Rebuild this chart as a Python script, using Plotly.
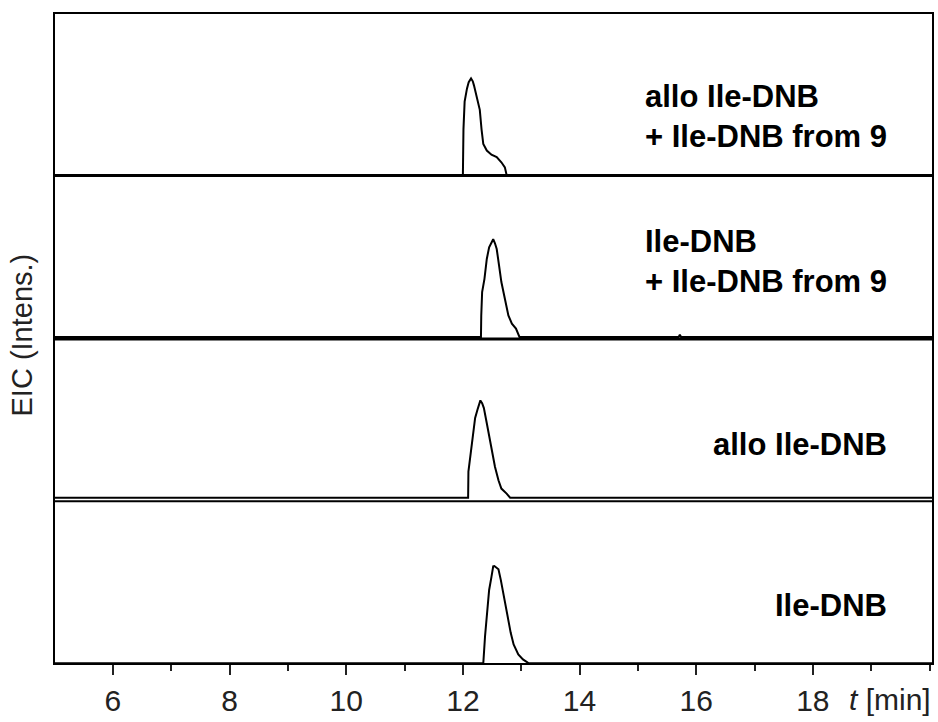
import plotly.graph_objects as go

# ---- data (time in min, normalised EIC intensity) ----
t_p1 = [4.9, 12.00, 12.01, 12.03, 12.07, 12.10, 12.14, 12.17, 12.19, 12.23, 12.26, 12.29, 12.32, 12.35, 12.41, 12.49, 12.58, 12.66, 12.72, 12.75, 20.2]
i_p1 = [0.0, 0.00, 0.28, 0.45, 0.53, 0.57, 0.593, 0.575, 0.55, 0.49, 0.45, 0.40, 0.28, 0.19, 0.15, 0.125, 0.11, 0.078, 0.047, 0.0, 0.0]

t_p2 = [4.9, 12.31, 12.315, 12.33, 12.37, 12.41, 12.45, 12.50, 12.52, 12.55, 12.58, 12.62, 12.66, 12.72, 12.78, 12.84, 12.91, 12.97, 15.70, 15.72, 15.74, 20.2]
i_p2 = [0.0, 0.00, 0.13, 0.276, 0.357, 0.479, 0.55, 0.585, 0.60, 0.575, 0.54, 0.44, 0.337, 0.235, 0.133, 0.082, 0.052, 0.0, 0.0, 0.015, 0.0, 0.0]

t_p3 = [4.9, 12.09, 12.095, 12.13, 12.17, 12.21, 12.25, 12.28, 12.30, 12.33, 12.36, 12.41, 12.45, 12.49, 12.55, 12.61, 12.66, 12.75, 12.81, 20.2]
i_p3 = [0.0, 0.00, 0.16, 0.27, 0.364, 0.49, 0.54, 0.575, 0.597, 0.58, 0.55, 0.457, 0.375, 0.29, 0.19, 0.107, 0.056, 0.025, 0.0, 0.0]

t_p4 = [4.9, 12.35, 12.38, 12.41, 12.45, 12.49, 12.52, 12.54, 12.58, 12.61, 12.65, 12.70, 12.76, 12.82, 12.87, 12.95, 13.03, 13.13, 20.2]
i_p4 = [0.0, 0.00, 0.166, 0.29, 0.45, 0.53, 0.595, 0.597, 0.585, 0.577, 0.512, 0.41, 0.288, 0.187, 0.116, 0.055, 0.024, 0.0, 0.0]

panel_labels = [
    "allo Ile-DNB<br>+ Ile-DNB from 9",
    "Ile-DNB<br>+ Ile-DNB from 9",
    "allo Ile-DNB",
    "Ile-DNB",
]
x_ticks = [6, 8, 10, 12, 14, 16, 18]
x_minor = [7, 9, 11, 13, 15, 17, 19, 20]
y_title = "EIC (Intens.)"
x_unit = "<i>t</i> [min]"

FONT = "Arial, 'Liberation Sans', sans-serif"

# plot-area geometry in pixels (figure 938x722)
L, R, T, B = 54, 5, 13, 54
H = 722 - T - B
def py(ypix):
    return (722 - B - ypix) / H

fig = go.Figure()
series = [(t_p1, i_p1, "y"), (t_p2, i_p2, "y2"), (t_p3, i_p3, "y3"), (t_p4, i_p4, "y4")]
for t, i, ax in series:
    fig.add_trace(go.Scatter(x=t, y=i, mode="lines", yaxis=ax, xaxis="x",
                             line=dict(color="black", width=2), showlegend=False,
                             hoverinfo="skip"))

b1, b2, b3 = 176, 340, 503
yax_common = dict(showticklabels=False, ticks="", showgrid=False, zeroline=False,
                  showline=False, anchor="x", fixedrange=True)
fig.update_layout(
    width=938, height=722,
    margin=dict(l=L, r=R, t=T, b=B),
    paper_bgcolor="white", plot_bgcolor="white",
    font=dict(family=FONT, size=30, color="#222"),
    xaxis=dict(range=[4.99, 20.06], tickvals=x_ticks, ticks="outside", ticklen=10,
               tickwidth=2, tickcolor="#222", showgrid=False, zeroline=False,
               showline=False, anchor="y4",
               tickfont=dict(family=FONT, size=30, color="#222"),
               minor=dict(tickvals=x_minor, ticks="outside", ticklen=6, tickwidth=2,
                          tickcolor="#222", showgrid=False)),
    yaxis=dict(domain=[py(b1), 1], range=[0, (b1 - T) / 164], **yax_common),
    yaxis2=dict(domain=[py(b2), py(b1)], range=[-1.0 / 164, (339 - b1) / 164], **yax_common),
    yaxis3=dict(domain=[py(b3), py(b2)], range=[-2.3 / 164, (500.7 - b2) / 164], **yax_common),
    yaxis4=dict(domain=[0, py(b3)], range=[-0.7 / 164, (667.3 - b3) / 164], **yax_common),
)

# frame and panel separators
shapes = [
    dict(type="rect", xref="paper", yref="paper", x0=0, x1=1, y0=0, y1=1,
         line=dict(color="black", width=2)),
    dict(type="line", xref="paper", yref="paper", x0=0, x1=1, y0=py(176.5), y1=py(176.5),
         line=dict(color="black", width=3)),
    dict(type="line", xref="paper", yref="paper", x0=0, x1=1, y0=py(341), y1=py(341),
         line=dict(color="black", width=3)),
    dict(type="line", xref="paper", yref="paper", x0=0, x1=1, y0=py(504.3), y1=py(504.3),
         line=dict(color="black", width=2)),
]
fig.update_layout(shapes=shapes)

label_y = [117, 263, 447, 609]
xr = (889 - L) / (938 - L - R)
for txt, ypix in zip(panel_labels, label_y):
    fig.add_annotation(xref="paper", yref="paper", x=xr, y=py(ypix), text="<b>%s</b>" % txt,
                       showarrow=False, xanchor="right", yanchor="middle", align="left",
                       font=dict(family=FONT, size=31, color="black"))

fig.add_annotation(xref="paper", yref="paper", x=(22 - L) / (938 - L - R), y=py(337.5),
                   text=y_title, textangle=-90, showarrow=False, xanchor="center",
                   yanchor="middle", font=dict(family=FONT, size=29, color="#222"))
fig.add_annotation(xref="paper", yref="paper", x=1.0, y=py(704), text=x_unit,
                   showarrow=False, xanchor="right", yanchor="middle",
                   font=dict(family=FONT, size=30, color="#222"))

fig.write_html("out.html")
